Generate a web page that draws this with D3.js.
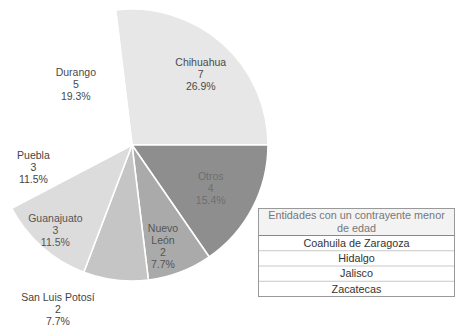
<!DOCTYPE html>
<html>
<head>
<meta charset="utf-8">
<script src="https://cdn.jsdelivr.net/npm/d3@7"></script>
<style>
  body { margin: 0; background: #fff; }
  svg text { font-family: "Liberation Sans", Arial, sans-serif; }
</style>
</head>
<body>
<div id="chart"></div>
<script>
// slice data, in drawing order (clockwise)
var states = ["Chihuahua", "Otros", "Nuevo León", "San Luis Potosí", "Guanajuato", "Puebla", "Durango"];
var counts = [7, 4, 2, 2, 3, 3, 5];
var pctLabels = ["26.9%", "15.4%", "7.7%", "7.7%", "11.5%", "11.5%", "19.3%"];

// table contents
var tableHeader = ["Entidades con un contrayente menor", "de edad"];
var tableRows = ["Coahuila de Zaragoza", "Hidalgo", "Jalisco", "Zacatecas"];

var width = 457, height = 329;
var cx = 132, cy = 145, radius = 136;

var fills = ["#e7e7e7", "#8e8e8e", "#aaaaaa", "#c5c5c5", "#dcdcdc", "#ffffff", "#ffffff"];
var textColors = ["#4a4a4a", "#6e6e6e", "#555", "#444", "#555", "#444", "#4a4a4a"];

// label placement: [radius, angle in degrees clockwise from 12 o'clock]
var labelPlace = [[99, 44], [90, 119], [106, 163], [180, 204.3], [115, 221.8], [101, 257.5], [83, 317.4]];

var svg = d3.select("#chart").append("svg")
    .attr("width", width)
    .attr("height", height);

var g = svg.append("g")
    .attr("transform", `translate(${cx}, ${cy})`);

var total = d3.sum(counts);
// Chihuahua ends exactly at 3 o'clock
var start = Math.PI / 2 - 2 * Math.PI * counts[0] / total;

var pie = d3.pie()
    .sort(null)
    .startAngle(start)
    .endAngle(start + 2 * Math.PI);

var arc = d3.arc().innerRadius(0).outerRadius(radius);

var arcs = pie(counts);

g.selectAll("path.slice")
    .data(arcs).enter()
  .append("path")
    .attr("class", "slice")
    .attr("d", arc)
    .attr("fill", (d, i) => fills[i])
    .attr("stroke", "#fff")
    .attr("stroke-width", 1.6);

// labels
var lineH = 12;
arcs.forEach((d, i) => {
    var p = labelPlace[i];
    var a = p[1] * Math.PI / 180;
    var lx = p[0] * Math.sin(a), ly = -p[0] * Math.cos(a);
    var lines = states[i] == "Nuevo León" ? ["Nuevo", "León"] : [states[i]];
    lines = lines.concat([String(counts[i]), pctLabels[i]]);
    var t = g.append("text")
        .attr("text-anchor", "middle")
        .style("font-size", "10.5px")
        .attr("fill", textColors[i]);
    lines.forEach((s, j) => {
        t.append("tspan")
            .attr("x", lx)
            .attr("y", ly + (j - (lines.length - 1) / 2) * lineH + 3.7)
            .text(s);
    });
});

// table
var tx = 258.5, ty = 208.5, tw = 196, headH = 27, rowH = 15.25;
var tb = svg.append("g");

tb.append("rect")
    .attr("x", tx).attr("y", ty)
    .attr("width", tw).attr("height", headH)
    .attr("fill", "#f3f3f3");

tableHeader.forEach((s, j) => {
    tb.append("text")
        .attr("x", tx + tw / 2)
        .attr("y", ty + 10.5 + j * 12.5)
        .attr("text-anchor", "middle")
        .style("font-size", "10.8px")
        .attr("fill", "#777")
        .text(s);
});

tb.append("line")
    .attr("x1", tx).attr("x2", tx + tw)
    .attr("y1", ty + headH).attr("y2", ty + headH)
    .attr("stroke", "#888").attr("stroke-width", 1);

tableRows.forEach((s, j) => {
    var y0 = ty + headH + j * rowH;
    tb.append("text")
        .attr("x", tx + tw / 2)
        .attr("y", y0 + rowH / 2 + 3.8)
        .attr("text-anchor", "middle")
        .style("font-size", "10.8px")
        .attr("fill", "#333")
        .text(s);
    if (j > 0) {
        tb.append("line")
            .attr("x1", tx).attr("x2", tx + tw)
            .attr("y1", y0).attr("y2", y0)
            .attr("stroke", "#c8c8c8").attr("stroke-width", 1);
    }
});

tb.append("rect")
    .attr("x", tx).attr("y", ty)
    .attr("width", tw).attr("height", headH + tableRows.length * rowH)
    .attr("fill", "none")
    .attr("stroke", "#999")
    .attr("stroke-width", 1);
</script>
</body>
</html>
